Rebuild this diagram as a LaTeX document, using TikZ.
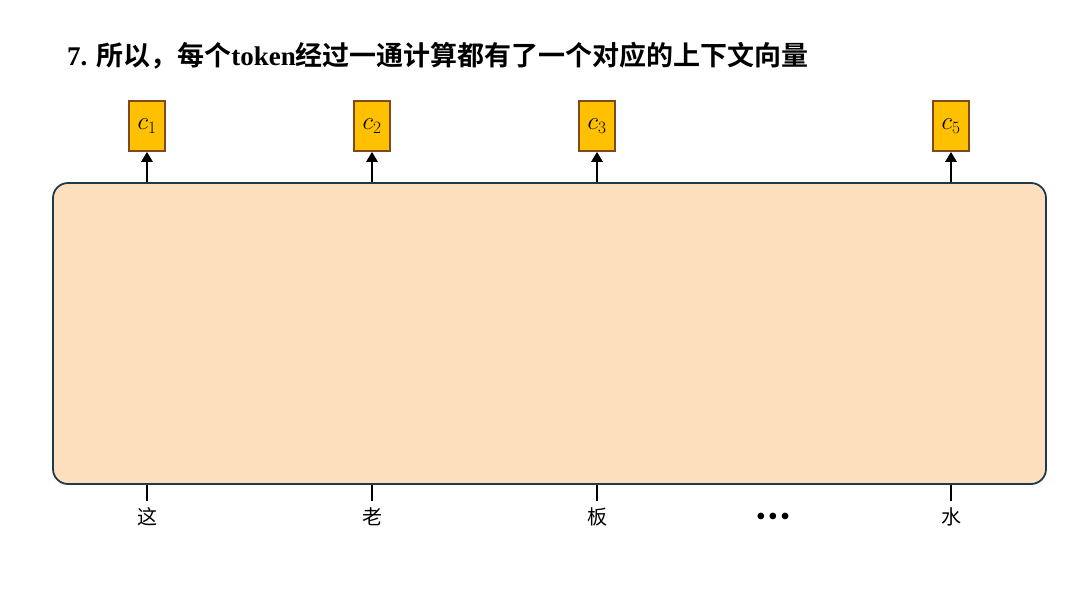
\documentclass[tikz,border=0pt]{standalone}
\usepackage{fontspec}
\setmainfont{Liberation Serif}
\newfontfamily\cjk{Noto Sans CJK SC}[BoldFont={Noto Sans CJK SC Bold}]
\newfontfamily\dotfont{DejaVu Sans Bold}
\usetikzlibrary{arrows.meta}

\definecolor{ctxfill}{HTML}{FFC000}
\definecolor{ctxline}{HTML}{7F4A1A}
\definecolor{encfill}{HTML}{FCE0BE}
\definecolor{encline}{HTML}{1F3A4A}

\tikzset{
  ctxbox/.style={draw=ctxline, fill=ctxfill, line width=1.6pt, minimum width=36pt,
    minimum height=50pt, inner sep=0pt, font=\fontsize{23}{23}\selectfont},
  encbox/.style={draw=encline, fill=encfill, line width=1.8pt, rounded corners=15pt,
    minimum width=993pt, minimum height=301pt, inner sep=0pt},
  word/.style={anchor=base, inner sep=0pt, font=\cjk\fontsize{20}{20}\selectfont},
  upflow/.style={line width=2.8pt, -{Triangle[width=11pt,length=10pt]}},
  tick/.style={line width=2.8pt}
}

\begin{document}
\begin{tikzpicture}[x=1pt, y=-1pt]
        \useasboundingbox (0,0) rectangle (1080,608);
\node[anchor=base west, inner sep=0pt, font=\bfseries\fontsize{27}{27}\selectfont] (title) at (67,65)
  {7. {\cjk 所以，每个}token{\cjk 经过一通计算都有了一个对应的上下文向量}}; % title
\node[encbox] (encoder) at (549.5,333.5) {}; % big box
\foreach \x/\n in {147/1,372/2,597/3,951/5}{
  \node[ctxbox] (c\n) at (\x,126) {$c_{\n}$};
  \draw[upflow] (encoder.north -| c\n) -- (c\n.south);
}
\foreach \x/\w/\n in {147/这/1,372/老/2,597/板/3,951/水/5}{
  \node[word] (w\n) at (\x,524) {\w};
  \coordinate (t\n) at (\x,501);
  \draw[tick] (encoder.south -| t\n) -- (t\n);
}
\node[anchor=base, inner sep=0pt, font=\dotfont\fontsize{19}{19}\selectfont] (dots) at (773,523) {•••}; % ellipsis
        \end{tikzpicture}
\end{document}
